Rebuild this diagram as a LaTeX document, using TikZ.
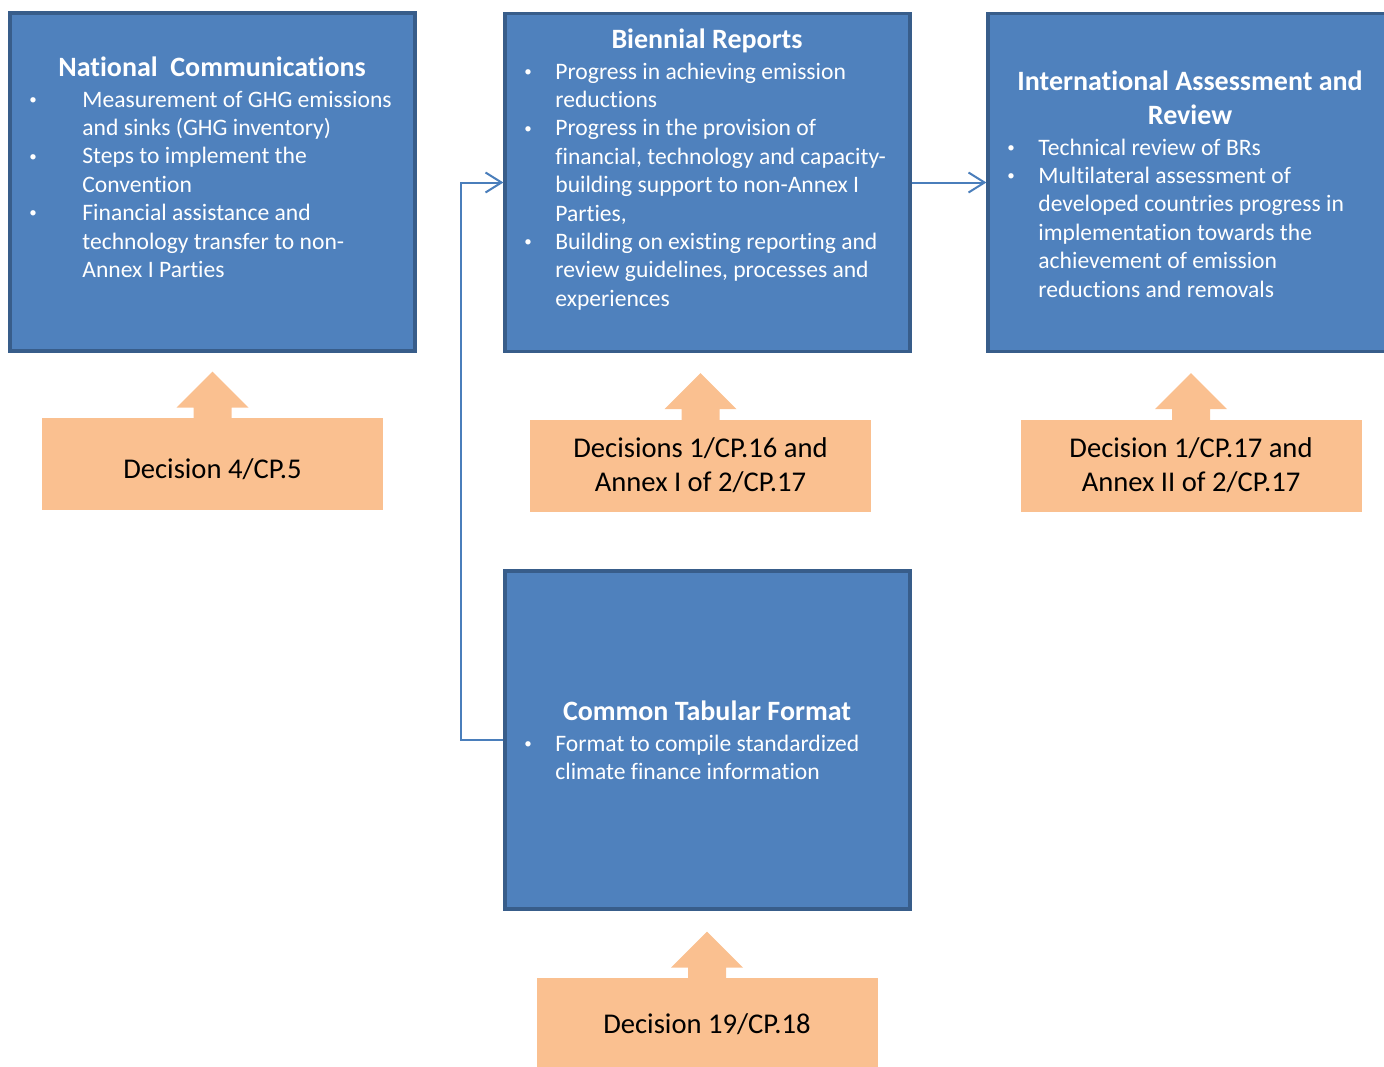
\documentclass[tikz,border=0pt]{standalone}
\usepackage{fontspec}
\setmainfont{Carlito}[Ligatures=NoCommon]
\usetikzlibrary{arrows.meta,calc}
\definecolor{boxblue}{HTML}{4F81BD}
\definecolor{boxline}{HTML}{385D8A}
\definecolor{decorange}{HTML}{FAC090}
\definecolor{linkblue}{HTML}{4A7EBB}
\newcommand\dotitem{\raisebox{1.4pt}{\fontsize{7.5}{7.5}\selectfont\textbullet}}

\tikzset{
  bluebox/.style={draw=boxline, fill=boxblue, line width=1.6pt, minimum width=202.5pt, minimum height=169pt, inner sep=0pt},
  decbox/.style={fill=decorange, minimum width=170.5pt, minimum height=46pt, inner sep=0pt, align=center, font=\fontsize{14.3}{17}\selectfont},
  boxtitle/.style={text=white, font=\bfseries\fontsize{14}{17}\selectfont, anchor=base, inner sep=0pt},
  boxlist/.style={text=white, font=\fontsize{11.8}{14.2}\selectfont, anchor=base west, inner sep=0pt},
  link/.style={draw=linkblue, line width=1pt, -{Straight Barb[length=8pt,width=10pt]}}
}

\begin{document}
\begin{tikzpicture}[x=0.5pt,y=-0.5pt]
  \useasboundingbox (0,0) rectangle (1384,1066);
  \clip (0,0) rectangle (1384,1066);

  % report boxes
  \node[bluebox] (nc) at (212.5,182) {};
  \node[bluebox] (br) at (707.5,182.5) {};
  \node[bluebox] (iar) at (1190.5,182.5) {};
  \node[bluebox] (ctf) at (707.5,740) {};

  \node[boxtitle] (nctitle) at (212,76) {National\ \ Communications};
  \node[boxlist] (nclist) at (29,107) {\begin{tabular}[t]{@{}p{26.5pt}@{}l@{}}
      \dotitem & Measurement of GHG emissions\\
               & and sinks (GHG inventory)\\
      \dotitem & Steps to implement the\\
               & Convention\\
      \dotitem & Financial assistance and\\
               & technology transfer to non-\\
               & Annex I Parties
    \end{tabular}};

  \node[boxtitle] (brtitle) at (707,48) {Biennial Reports};
  \node[boxlist] (brlist) at (524,79) {\begin{tabular}[t]{@{}p{15.5pt}@{}l@{}}
      \dotitem & Progress in achieving emission\\
               & reductions\\
      \dotitem & Progress in the provision of\\
               & financial, technology and capacity-\\
               & building support to non-Annex I\\
               & Parties,\\
      \dotitem & Building on existing reporting and\\
               & review guidelines, processes and\\
               & experiences
    \end{tabular}};

  \node[boxtitle] (iartitle) at (1190,90) {\begin{tabular}[t]{@{}c@{}}
      International Assessment and\\
      Review
    \end{tabular}};
  \node[boxlist] (iarlist) at (1007,155) {\begin{tabular}[t]{@{}p{15.5pt}@{}l@{}}
      \dotitem & Technical review of BRs\\
      \dotitem & Multilateral assessment of\\
               & developed countries progress in\\
               & implementation towards the\\
               & achievement of emission\\
               & reductions and removals
    \end{tabular}};

  \node[boxtitle] (ctftitle) at (707,720) {Common\ Tabular\ Format};
  \node[boxlist] (ctflist) at (524,751) {\begin{tabular}[t]{@{}p{15.5pt}@{}l@{}}
      \dotitem & Format to compile standardized\\
               & climate finance information
    \end{tabular}};

  % decisions
  \node[decbox] (dec1) at (212.5,464) {\raisebox{-7pt}[0pt][0pt]{Decision 4/CP.5}};
  \node[decbox] (dec2) at (700.5,465.5) {Decisions 1/CP.16 and\\Annex I of 2/CP.17};
  \node[decbox] (dec3) at (1191,465.5) {Decision 1/CP.17 and\\Annex II of 2/CP.17};
  \node[decbox] (dec4) at (707,1024) {Decision 19/CP.18};

  \foreach \d in {dec1,dec2,dec3,dec4}
    \fill[decorange] ($(\d.north)+(-19,1)$) -- ++(0,-11) -- ++(-17,0)
      -- ($(\d.north)+(0,-46)$) -- ($(\d.north)+(36,-10)$) -- ++(-17,0)
      -- ($(\d.north)+(19,1)$) -- cycle;

  % connectors
  \draw[link] (ctf.west) -- ++(-42,0) |- (br.west);
  \draw[link] (br.east) -- (iar.west);
\end{tikzpicture}
\end{document}
